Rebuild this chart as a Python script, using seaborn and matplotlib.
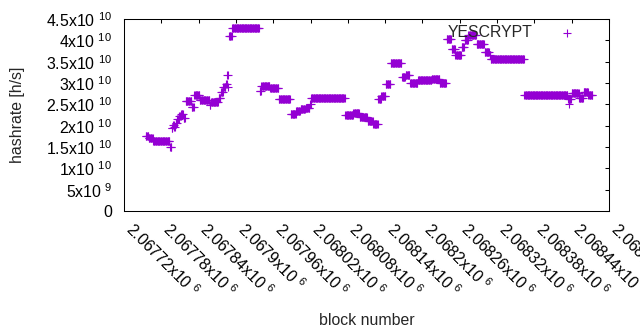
import matplotlib
matplotlib.use("Agg")
import matplotlib.pyplot as plt
import numpy as np
import pandas as pd
import seaborn as sns

# block offsets are relative to this block
base_block = 2067720

# runs of consecutive blocks sharing one hashrate
run_first = [35, 40, 47, 74, 77, 79, 81, 83, 86, 89, 92, 96, 99, 109, 113, 122,
             138, 140, 152, 156, 160, 164, 166, 168, 169, 174, 218, 221, 235, 249,
             268, 277, 284, 292, 299, 301, 356, 369, 379, 392, 401, 409, 414, 421,
             429, 447, 453, 460, 473, 495, 508, 519, 527, 533, 543, 548, 554, 567,
             580, 588, 590, 644, 714, 716, 717, 720, 732, 739, 747]
run_last = [39, 46, 73, 76, 78, 80, 82, 85, 88, 91, 95, 98, 108, 112, 121, 137,
            139, 151, 155, 159, 163, 165, 167, 168, 173, 217, 220, 234, 248, 267,
            276, 283, 291, 298, 300, 355, 368, 378, 391, 400, 408, 413, 420, 428,
            446, 452, 459, 472, 494, 507, 518, 526, 532, 542, 547, 553, 566, 579,
            587, 589, 643, 713, 715, 716, 719, 731, 738, 746, 753]
# hashrate in units of 1e10 h/s
run_hashrate = [1.75, 1.72, 1.63, 1.51, 1.94, 2.01, 1.97, 2.07, 2.16, 2.22, 2.28, 2.19,
                2.57, 2.43, 2.71, 2.60, 2.49, 2.55, 2.66, 2.79, 2.90, 2.97, 3.19, 2.90,
                4.10, 4.28, 2.82, 2.93, 2.88, 2.62, 2.28, 2.34, 2.39, 2.42, 2.50, 2.645,
                2.26, 2.30, 2.21, 2.12, 2.03, 2.62, 2.70, 2.97, 3.46, 3.13, 3.18, 2.99,
                3.06, 3.09, 3.01, 4.03, 3.79, 3.65, 3.85, 4.00, 4.12, 3.91, 3.73, 3.66,
                3.555, 2.71, 2.63, 2.50, 2.62, 2.76, 2.66, 2.79, 2.72]

x_tick_values = [2067720, 2067780, 2067840, 2067900, 2067960, 2068020, 2068080,
                 2068140, 2068200, 2068260, 2068320, 2068380, 2068440, 2068500]
x_tick_mantissa = ["2.06772", "2.06778", "2.06784", "2.0679", "2.06796", "2.06802",
                   "2.06808", "2.06814", "2.0682", "2.06826", "2.06832", "2.06838",
                   "2.06844", "2.0685"]
y_tick_values = [0, 5e9, 1e10, 1.5e10, 2e10, 2.5e10, 3e10, 3.5e10, 4e10, 4.5e10]
y_tick_labels = ["0", "5x10 $^{9}$", "1x10 $^{10}$", "1.5x10 $^{10}$", "2x10 $^{10}$",
                 "2.5x10 $^{10}$", "3x10 $^{10}$", "3.5x10 $^{10}$", "4x10 $^{10}$",
                 "4.5x10 $^{10}$"]

blocks = np.concatenate([np.arange(a, b + 1) for a, b in zip(run_first, run_last)]) + base_block
counts = [b - a + 1 for a, b in zip(run_first, run_last)]
hashrate = np.repeat(np.array(run_hashrate) * 1e10, counts)
df = pd.DataFrame({"block": blocks, "hashrate": hashrate})

sns.set_style("white")
plt.rcParams["font.family"] = ["Liberation Sans", "DejaVu Sans"]
plt.rcParams["mathtext.default"] = "regular"
fs = 11.4

fig = plt.figure(figsize=(6.4, 3.3), dpi=100)
ax = fig.add_axes([124 / 640, 1 - 211 / 330, 485 / 640, 192 / 330])

sns.scatterplot(data=df, x="block", y="hashrate", marker="+", s=28,
                color="#9400d3", linewidth=0.8, label="YESCRYPT", ax=ax)

ax.set_xlim(2067720, 2068500)
ax.set_ylim(0, 4.5e10)
ax.set_xticks(x_tick_values)
ax.set_xticklabels([m + "x10 $^{6}$" for m in x_tick_mantissa], rotation=-45,
                   ha="left", va="baseline", rotation_mode="anchor")
ax.set_yticks(y_tick_values)
ax.set_yticklabels(y_tick_labels)
ax.tick_params(axis="both", direction="in", length=3.2, width=0.75,
               top=True, right=True, labelsize=fs, colors="black")
ax.tick_params(axis="y", pad=8.5)
ax.tick_params(axis="x", pad=14)
for spine in ax.spines.values():
    spine.set_color("black")
    spine.set_linewidth(0.75)

ax.set_xlabel("block number", fontsize=fs)
ax.set_ylabel("hashrate [h/s]", fontsize=fs)
ax.xaxis.set_label_coords(0.5, -0.53)
ax.yaxis.set_label_coords(-0.205, 0.5)

ax.legend(loc="upper right", bbox_to_anchor=(0.946, 0.967), frameon=False,
          markerfirst=False, fontsize=fs, handlelength=2, handletextpad=1.2,
          borderaxespad=0, borderpad=0)

fig.savefig("out.png", dpi=100)
